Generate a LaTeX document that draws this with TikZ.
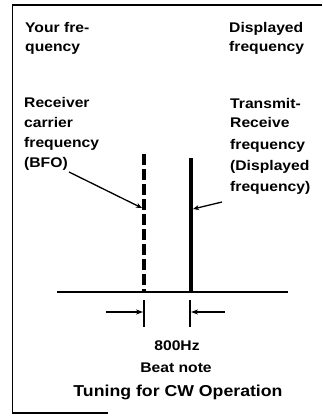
\documentclass[tikz,border=0pt]{standalone}
\usepackage{fontspec}
\newfontfamily\lbl[FakeStretch=1.12]{Liberation Sans}
\usetikzlibrary{arrows.meta}
\begin{document}
\begin{tikzpicture}[x=1pt,y=-1pt,
  txt/.style={inner sep=0pt, anchor=base west, font=\lbl\bfseries\fontsize{14}{20}\selectfont},
  ctr/.style={inner sep=0pt, anchor=base, font=\lbl\bfseries\fontsize{14}{20}\selectfont},
  frame/.style={line width=1.4pt},
  leader/.style={line width=1.3pt, -{Stealth[length=6pt,width=5pt]}},
  dimarrow/.style={line width=1.3pt, -{Stealth[length=7pt,width=5pt]}},
  tick/.style={line width=2pt}]
\useasboundingbox (0,0) rectangle (322,417);
% frame
\coordinate (fTR) at (322,5);
\coordinate (fTL) at (12.5,5);
\coordinate (fBL) at (12.5,413);
\coordinate (fBR) at (108,413);
\draw[frame] (fTR) -- (fTL) -- (fBL) -- (fBR);
% top labels
\node[txt] (yf1) at (25,33) {Your fre-};
\node[txt] (yf2) at (25,52) {quency};
\node[txt] (df1) at (229,33) {Displayed};
\node[txt] (df2) at (229,52) {frequency};
% left label block
\node[txt] (rc1) at (24,107) {Receiver};
\node[txt] (rc2) at (24,127) {carrier};
\node[txt] (rc3) at (24,147) {frequency};
\node[txt] (rc4) at (24,167) {(BFO)};
% right label block
\node[txt] (tr1) at (230,108) {Transmit-};
\node[txt] (tr2) at (230,128) {Receive};
\node[txt] (tr3) at (230,149) {frequency};
\node[txt] (tr4) at (230,170) {(Displayed};
\node[txt] (tr5) at (230,191) {frequency)};
% axis
\coordinate (axL) at (57,292);
\coordinate (axR) at (288,292);
\draw[line width=2pt] (axL) -- (axR);
% carrier lines
\coordinate (bfoTop) at (144,154);
\coordinate (bfoBot) at (144,292);
\coordinate (txTop) at (191,158);
\coordinate (txBot) at (191,292);
\draw[line width=3.4pt, dash pattern=on 11pt off 4pt] (bfoTop) -- (bfoBot);
\draw[line width=3.2pt] (txTop) -- (txBot);
% leaders
\coordinate (lA) at (69,172);
\coordinate (lB) at (142,208);
\coordinate (rA) at (222,202);
\coordinate (rB) at (193,209);
\draw[leader] (lA) -- (lB);
\draw[leader] (rA) -- (rB);
% dimension ticks and arrows
\coordinate (t1a) at (144,300);
\coordinate (t1b) at (144,327);
\coordinate (t2a) at (190,300);
\coordinate (t2b) at (190,327);
\draw[tick] (t1a) -- (t1b);
\draw[tick] (t2a) -- (t2b);
\coordinate (d1) at (106,312);
\coordinate (d1e) at (143,312);
\coordinate (d2) at (225,312);
\coordinate (d2e) at (191,312);
\draw[dimarrow] (d1) -- (d1e);
\draw[dimarrow] (d2) -- (d2e);
% bottom texts
\node[ctr] (hz) at (177,350) {800Hz};
\node[ctr] (bn) at (176,372) {Beat note};
\node[ctr, font=\lbl\bfseries\fontsize{15.8}{20}\selectfont] (ttl) at (178,396) {Tuning for CW Operation};
\end{tikzpicture}
\end{document}
